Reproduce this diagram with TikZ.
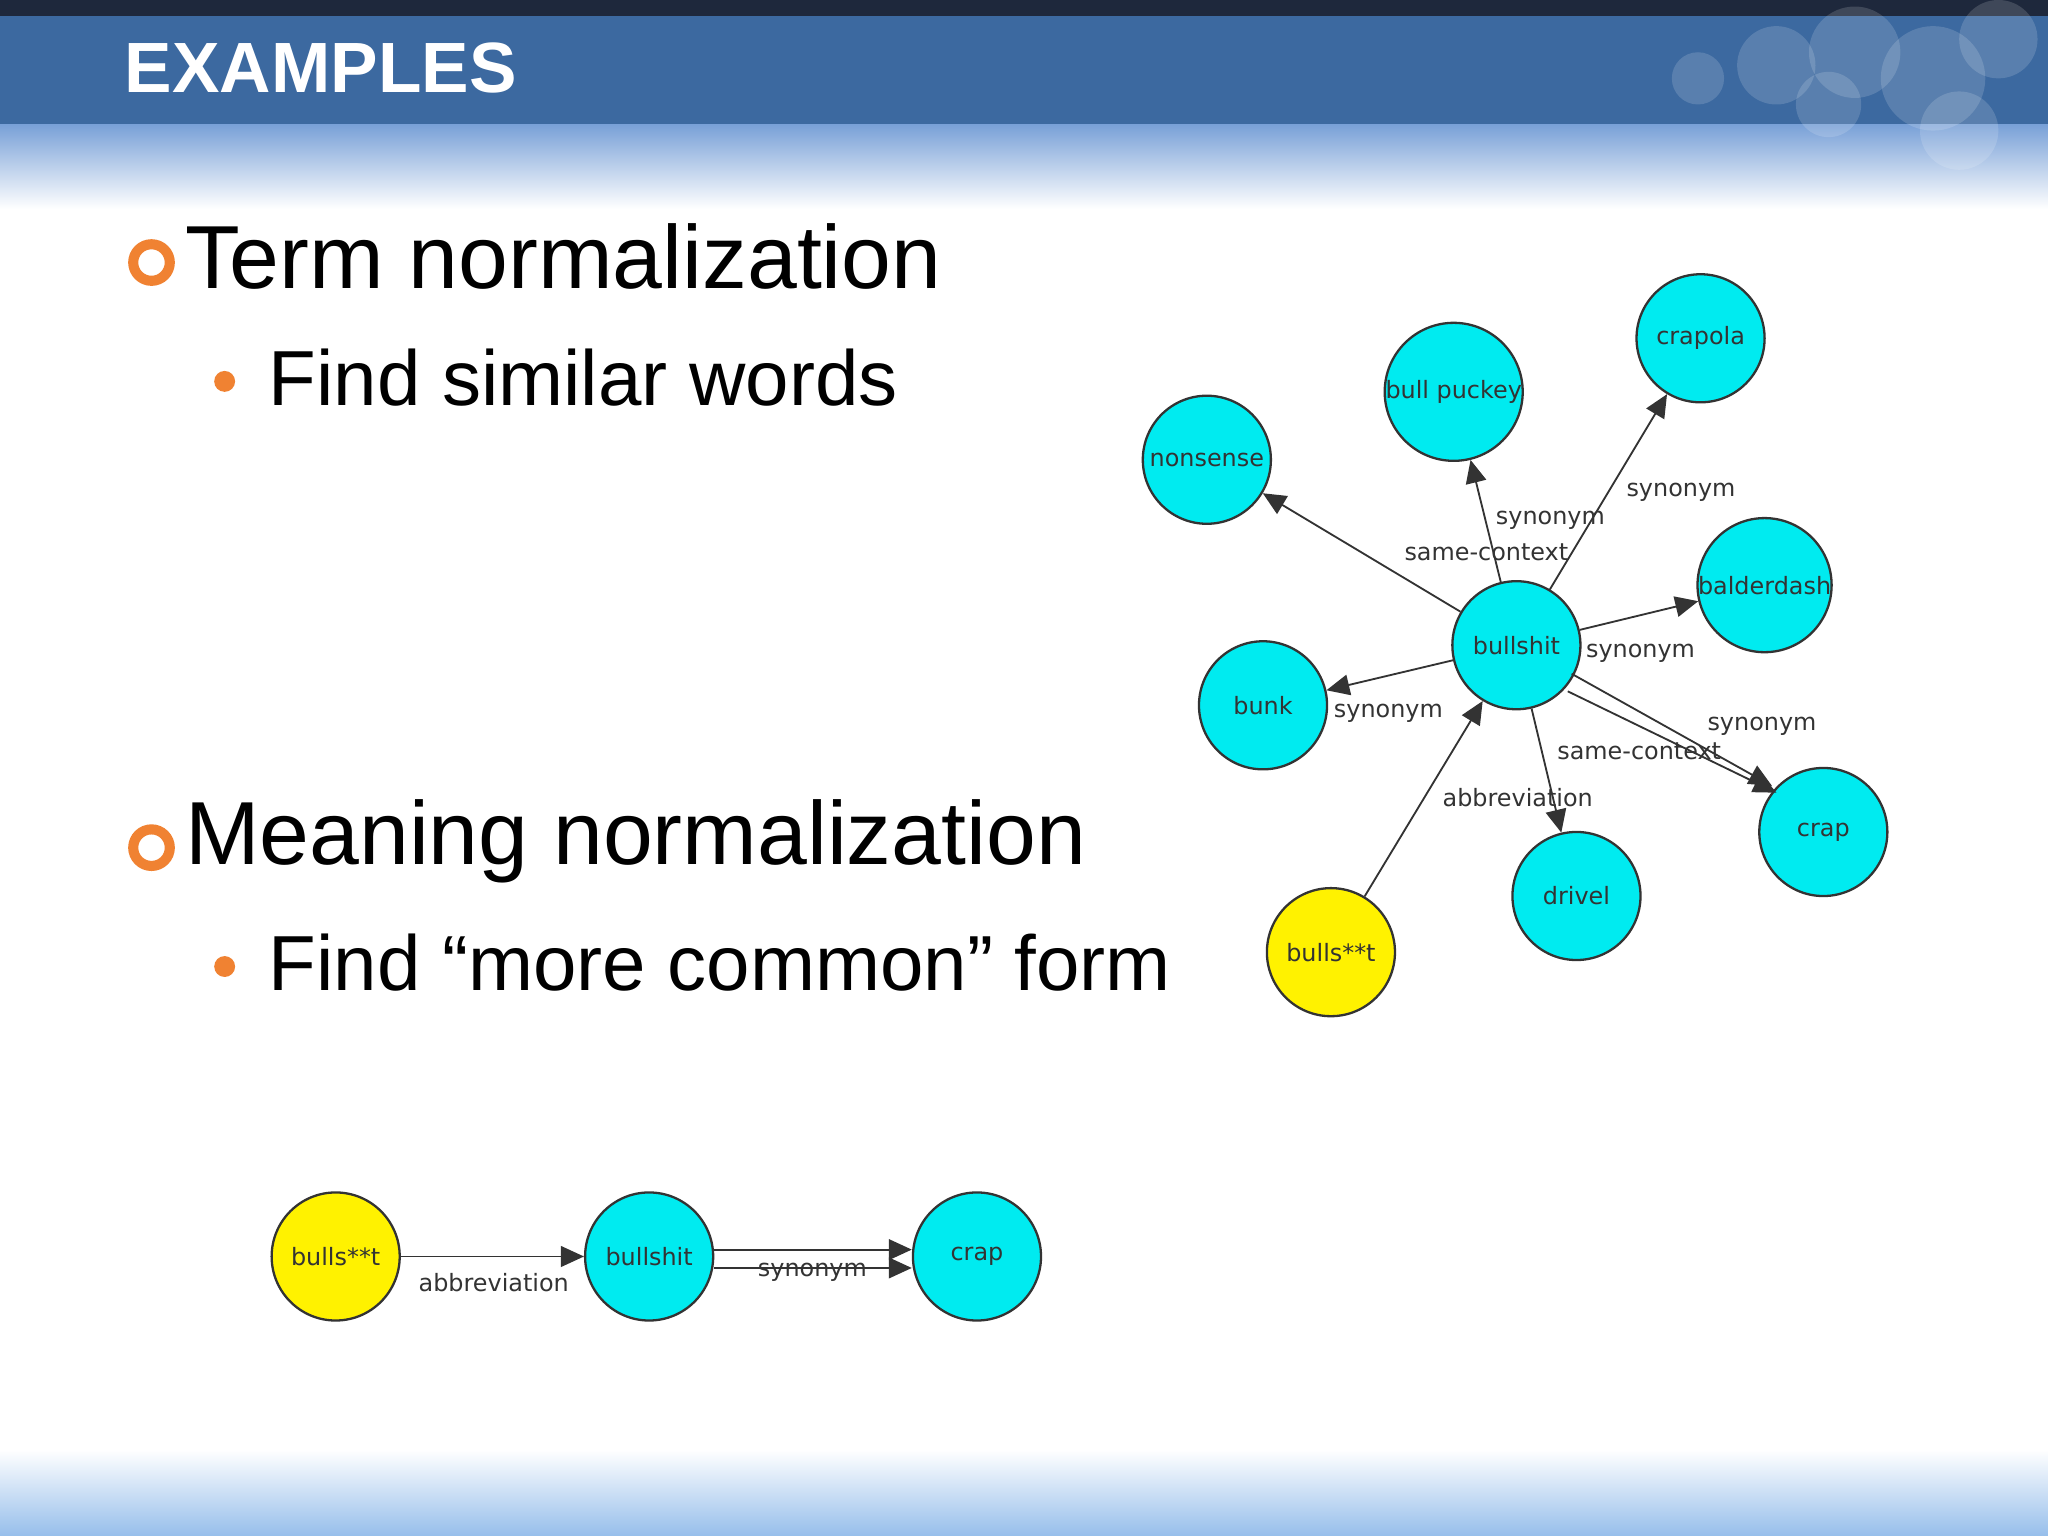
\documentclass[tikz,border=0pt]{standalone}
\usepackage{fontspec}
\setmainfont{Liberation Sans}
\newfontfamily\nodefont{DejaVu Sans}
\usetikzlibrary{arrows.meta}
\definecolor{hdrblue}{RGB}{60,105,160}
\definecolor{hdrdark}{RGB}{30,40,60}
\definecolor{lightblue}{RGB}{120,160,215}
\definecolor{footblue}{RGB}{150,190,235}
\definecolor{bulletor}{RGB}{240,130,50}
\definecolor{nodecyan}{RGB}{0,235,240}
\begin{document}
\begin{tikzpicture}[x=0.01cm,y=-0.01cm,
  gn/.style={circle,draw=black!80,line width=0.5pt,minimum size=0.98cm,inner sep=0pt,font=\nodefont\fontsize{5.2}{6}\selectfont,text=black!80},
  cy/.style={gn,fill=nodecyan},
  ye/.style={gn,fill=yellow},
  ed/.style={draw=black!80,line width=0.4pt,-{Triangle[length=5pt,width=4.5pt]}},
  lb/.style={font=\nodefont\fontsize{5.2}{6}\selectfont,text=black!80,inner sep=1pt}]
\useasboundingbox (0,0) rectangle (1568,1176);
\fill[white] (0,0) rectangle (1568,1176);
\shade[top color=lightblue,bottom color=white] (0,95) rectangle (1568,160);
\fill[hdrblue] (0,0) rectangle (1568,95);
\fill[hdrdark] (0,0) rectangle (1568,12);
\foreach \x/\y/\r in {1360/50/30,1420/40/35,1480/60/40,1530/30/30,1400/80/25,1500/100/30,1300/60/20}
  \fill[white,opacity=0.15] (\x,\y) circle (\r);
\node[anchor=west,text=white,font=\bfseries\fontsize{15.5}{18}\selectfont,inner sep=0] (title) at (95,52) {EXAMPLES};
\shade[top color=white,bottom color=footblue] (0,1110) rectangle (1568,1176);
\node[circle,draw=bulletor,line width=2.2pt,minimum size=0.28cm,inner sep=0] (b1) at (116,201) {};
\node[anchor=west,font=\fontsize{19.5}{23}\selectfont,inner sep=0] (t1) at (141,196) {Term normalization};
\fill[bulletor] (172,292) circle (8);
\node[anchor=west,font=\fontsize{17}{20}\selectfont,inner sep=0] (t2) at (205,289) {Find similar words};
\node[circle,draw=bulletor,line width=2.2pt,minimum size=0.28cm,inner sep=0] (b2) at (116,649) {};
\node[anchor=west,font=\fontsize{19.5}{23}\selectfont,inner sep=0] (t3) at (141,644) {Meaning normalization};
\fill[bulletor] (172,740) circle (8);
\node[anchor=west,font=\fontsize{17}{20}\selectfont,inner sep=0] (t4) at (205,737) {Find “more common” form};
\node[cy] (crapola) at (1302,259) {crapola};
\node[cy] (puckey) at (1113,300) {bull puckey};
\node[cy] (nonsense) at (924,352) {nonsense};
\node[cy] (balder) at (1351,448) {balderdash};
\node[cy] (bs) at (1161,494) {bullshit};
\node[cy] (bunk) at (967,540) {bunk};
\node[cy] (crap) at (1396,637) {crap};
\node[cy] (drivel) at (1207,686) {drivel};
\node[ye] (bst) at (1019,729) {bulls**t};
\draw[ed] (bs) -- (crapola);
\draw[ed] (bs) -- (puckey);
\draw[ed] (bs) -- (nonsense);
\draw[ed] (bs) -- (balder);
\draw[ed] (bs) -- (bunk);
\draw[ed] (bs) -- (drivel);
\draw[ed] (bst) -- (bs);
\draw[ed] ([yshift=1.3pt]bs.-32) -- ([yshift=1.3pt]crap.142);
\draw[ed] ([yshift=-1.3pt]bs.-38) -- ([yshift=-1.3pt]crap.136);
\node[lb] (l1) at (1287,377) {synonym};
\node[lb] (l2) at (1187,398) {synonym};
\node[lb] (l3) at (1138,423) {same-context};
\node[lb] (l4) at (1256,500) {synonym};
\node[lb] (l5) at (1063,546) {synonym};
\node[lb] (l6) at (1349,556) {synonym};
\node[lb] (l7) at (1255,575) {same-context};
\node[lb] (l8) at (1162,611) {abbreviation};
\node[ye] (b_bst) at (257,962) {bulls**t};
\node[cy] (b_bs) at (497,962) {bullshit};
\node[cy] (b_crap) at (748,962) {crap};
\draw[ed] (b_bst) -- (b_bs);
\draw[ed] ([yshift=1.5pt]b_bs.east) -- ([yshift=1.5pt]b_crap.west);
\draw[ed] ([yshift=-2.5pt]b_bs.east) -- ([yshift=-2.5pt]b_crap.west);
\node[lb] (l9) at (378,982) {abbreviation};
\node[lb] (l10) at (622,974) {synonym};
\end{tikzpicture}
\end{document}
